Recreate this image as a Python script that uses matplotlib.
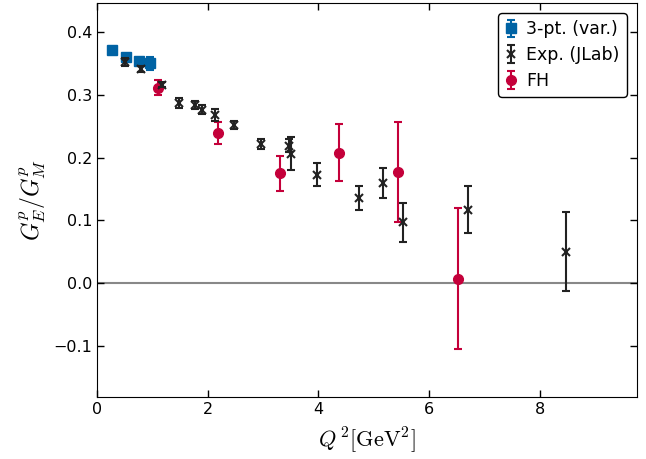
import numpy as np
import matplotlib
matplotlib.use("Agg")
import matplotlib.pyplot as plt

plt.rcParams["mathtext.fontset"] = "cm"
plt.rcParams["xtick.direction"] = "in"
plt.rcParams["ytick.direction"] = "in"
plt.rcParams["xtick.top"] = True
plt.rcParams["ytick.right"] = True

# Data
# -----------------------------------------------------------------------------
# 3-pt. (var.)
q2_3pt  = [0.27, 0.52, 0.76, 0.96]
r_3pt   = [0.371, 0.360, 0.353, 0.350]
e_3pt   = [0.002, 0.003, 0.005, 0.010]

# Exp. (JLab)
q2_exp  = [0.50, 0.79, 1.18, 1.48, 1.77, 1.90, 2.13, 2.48, 2.97, 3.47, 3.50,
           3.97, 4.74, 5.17, 5.54, 6.70, 8.47]
r_exp   = [0.352, 0.341, 0.316, 0.287, 0.284, 0.276, 0.268, 0.252, 0.221,
           0.219, 0.206, 0.173, 0.136, 0.159, 0.097, 0.117, 0.050]
e_exp   = [0.006, 0.005, 0.004, 0.008, 0.006, 0.007, 0.010, 0.006, 0.008,
           0.010, 0.026, 0.018, 0.019, 0.024, 0.031, 0.037, 0.063]

# FH
q2_fh   = [1.10, 2.19, 3.31, 4.37, 5.45, 6.53]
r_fh    = [0.311, 0.239, 0.175, 0.208, 0.177, 0.007]
e_fh    = [0.012, 0.018, 0.028, 0.046, 0.079, 0.112]

# Plot
# -----------------------------------------------------------------------------
fig = plt.figure(figsize=(6.46, 4.59), dpi=100)
ax = fig.add_axes([0.150, 0.135, 0.836, 0.8585])

ax.axhline(0, color="#888888", linewidth=1.5, zorder=1)

ax.errorbar(q2_3pt, r_3pt, yerr=e_3pt, fmt="s", color="#0063a4", ms=6.5,
            capsize=3, elinewidth=1.5, capthick=1.5, label="3-pt. (var.)", zorder=2)
ax.errorbar(q2_exp, r_exp, yerr=e_exp, fmt="x", color="#222222", ms=5.5,
            mew=1.5, capsize=3, elinewidth=1.5, capthick=1.5,
            label="Exp. (JLab)", zorder=4)
ax.errorbar(q2_fh, r_fh, yerr=e_fh, fmt="o", color="#c4003a", ms=7,
            capsize=3, elinewidth=1.5, capthick=1.5, label="FH", zorder=3)

ax.set_xlim(0, 9.76)
ax.set_ylim(-0.181, 0.446)
ax.set_xticks([0, 2, 4, 6, 8])
ax.set_yticks([-0.1, 0.0, 0.1, 0.2, 0.3, 0.4])
ax.tick_params(labelsize=11.5, length=5, width=1)

ax.set_xlabel(r"$Q^{\,2}[\mathrm{GeV}^2]$", fontsize=16, labelpad=6)
ax.set_ylabel(r"$G_E^p/G_M^p$", fontsize=17, labelpad=4)

leg = ax.legend(loc="upper right", fontsize=12.5, fancybox=True,
                framealpha=1, edgecolor="black", handlelength=0.6,
                handletextpad=0.6, labelspacing=0.45, borderaxespad=0.6)
leg.get_frame().set_linewidth(1.0)

plt.savefig("out.png", dpi=100)
